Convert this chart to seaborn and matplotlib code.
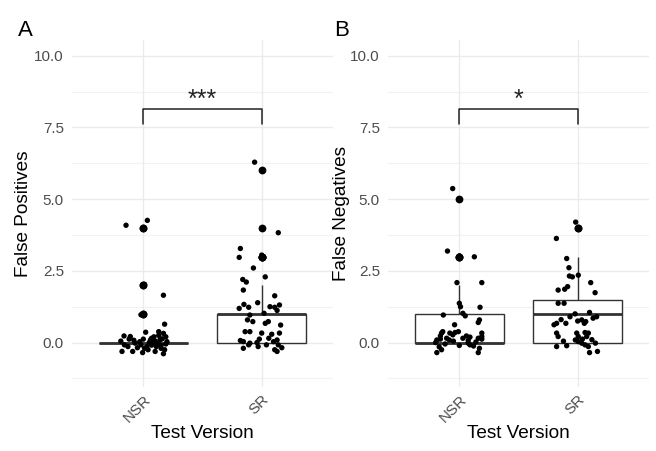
import numpy as np
import pandas as pd
import matplotlib
matplotlib.use("Agg")
import matplotlib.pyplot as plt
import seaborn as sns

# ---------------- data ----------------
versions = ["NSR", "SR"]

# Panel A: False Positives  (underlying integer counts + observed jitter offsets)
fp_nsr_counts = [4, 4, 2, 2, 1, 1] + [0] * 41
fp_nsr_dx = [-0.146, 0.034, 0.01, 0.17, -0.02, 0.18,
             -0.163, -0.11, 0.02, 0.07, 0.13, 0.17, 0.19, -0.18, -0.09, -0.006, 0.1, 0.17,
             -0.13, -0.07, -0.03, 0.03, 0.06, 0.08, 0.11, 0.14, 0.2, 0.15, 0.04,
             -0.19, -0.16, -0.12, -0.05, -0.02, 0.0, 0.01, 0.05, 0.07, 0.09, 0.1, 0.12,
             0.13, 0.15, 0.16, 0.18, 0.19, -0.08]
fp_nsr_dy = [0.09, 0.26, 0.03, -0.35, -0.03, -0.36,
             0.23, 0.21, 0.36, 0.15, 0.38, 0.32, 0.2, -0.31, -0.31, -0.35, -0.31, -0.39,
             -0.14, -0.02, 0.03, -0.14, 0.09, -0.02, -0.14, 0.09, 0.03, -0.2, -0.25,
             0.05, -0.08, 0.12, -0.18, -0.08, 0.12, -0.2, 0.0, -0.09, 0.2, 0.05, -0.05,
             0.25, -0.1, 0.13, -0.25, -0.05, 0.08]

fp_sr_counts = [6, 4, 3, 3, 3, 3, 2, 2, 2, 2, 2] + [1] * 15 + [0] * 21
fp_sr_dx = [-0.06, 0.14, -0.18, -0.19, 0.0, -0.07, 0.03, -0.16, -0.13, -0.155, 0.11,
            -0.19, -0.11, -0.034, 0.07, 0.11, 0.15, -0.1, -0.075, -0.12, 0.056, 0.16,
            0.02, -0.15, 0.13, 0.03,
            -0.14, -0.1, 0.0, 0.085, 0.15, -0.18, -0.155, -0.1, -0.04, -0.02, 0.1, 0.13,
            -0.155, -0.03, 0.14, 0.11, 0.13, 0.04, -0.11, 0.06, 0.17]
fp_sr_dy = [0.29, -0.17, 0.28, -0.03, 0.05, -0.4, 0.29, 0.2, 0.11, -0.17, -0.37,
            0.19, 0.23, 0.39, 0.25, 0.23, 0.31, -0.04, -0.27, -0.21, -0.27, -0.39,
            0.02, 0.33, 0.12, -0.33,
            0.38, 0.38, 0.33, 0.29, 0.33, 0.07, 0.035, -0.02, 0.0, 0.12, 0.03, 0.09,
            -0.2, -0.14, -0.08, -0.25, -0.31, -0.08, -0.08, 0.15, -0.18]

# Panel B: False Negatives
fn_nsr_counts = [5, 3, 3, 3, 2, 2] + [1] * 9 + [0] * 32
fn_nsr_dx = [-0.056, -0.1, 0.127, 0.0, -0.02, 0.19,
             0.0, 0.01, 0.175, 0.03, 0.05, -0.135, 0.17, 0.16, -0.04,
             -0.15, -0.14, -0.16, -0.08, -0.055, -0.036, -0.008, 0.19, 0.19, -0.19, -0.16,
             -0.2, -0.107, -0.085, 0.06, 0.09, 0.075, 0.16, 0.19, 0.075, 0.09, -0.19,
             -0.15, 0.16, 0.17, -0.12, -0.05, 0.0, 0.03, 0.12, 0.14, -0.17]
fn_nsr_dy = [0.37, 0.19, -0.01, 0.02, 0.09, 0.09,
             0.37, 0.25, 0.23, 0.02, -0.07, -0.04, -0.21, -0.3, -0.38,
             0.33, 0.38, 0.23, 0.33, 0.27, 0.35, 0.38, 0.33, 0.21, 0.09, 0.12,
             0.0, 0.15, 0.09, 0.23, 0.19, 0.07, 0.15, 0.12, -0.02, -0.08, -0.35,
             -0.25, -0.35, -0.2, -0.05, 0.05, -0.1, 0.15, -0.12, 0.02, -0.15]

fn_sr_counts = [4, 4, 3, 3] + [2] * 8 + [1] * 15 + [0] * 20
fn_sr_dx = [-0.017, -0.18, -0.093, -0.074, -0.07, -0.045, 0.005, 0.11, 0.147, -0.165,
            -0.11, -0.085,
            -0.165, -0.115, -0.065, -0.022, 0.034, 0.068, 0.056, 0.13, -0.178, -0.2, -0.1,
            0.1, 0.16, -0.14, 0.0,
            -0.178, -0.165, -0.008, 0.005, 0.062, 0.09, 0.076, -0.02, 0.005, 0.034, 0.062,
            0.09, -0.178, -0.093, 0.1, 0.167, 0.12, -0.12, 0.04, 0.15]
fn_sr_dy = [0.2, -0.37, -0.07, -0.39, 0.32, 0.29, 0.35, 0.09, -0.26, -0.17, -0.14, -0.05,
            0.37, 0.37, -0.1, 0.0, -0.21, -0.27, -0.33, -0.15, -0.33, -0.38, -0.33,
            0.05, -0.1, -0.2, -0.25,
            0.33, 0.21, 0.33, 0.21, 0.35, 0.33, 0.21, 0.09, 0.035, -0.02, -0.08,
            -0.14, -0.14, -0.11, -0.35, -0.31, 0.1, 0.05, 0.12, -0.02]

panels = [
    ("A", "False Positives", "***", (fp_nsr_counts, fp_nsr_dx, fp_nsr_dy), (fp_sr_counts, fp_sr_dx, fp_sr_dy)),
    ("B", "False Negatives", "*", (fn_nsr_counts, fn_nsr_dx, fn_nsr_dy), (fn_sr_counts, fn_sr_dx, fn_sr_dy)),
]

y_ticks = [0.0, 2.5, 5.0, 7.5, 10.0]
y_minor = [-1.25, 1.25, 3.75, 6.25, 8.75]
bracket_y = 8.15
bracket_tip = 7.63

# ---------------- style ----------------
sns.set_theme(style="white")
plt.rcParams["font.family"] = ["Liberation Sans", "DejaVu Sans"]

fig = plt.figure(figsize=(6.56, 4.51), dpi=100)
positions = [[0.1102, 0.1419, 0.397, 0.7694], [0.5919, 0.1419, 0.397, 0.7694]]
letter_x = [25, 342]
ylabel_x = [23, 341]

for (letter, ylab, stars, g1, g2), pos, lx, ylx in zip(panels, positions, letter_x, ylabel_x):
    ax = fig.add_axes(pos)
    rows = []
    for v, (counts, dx, dy) in zip(versions, [g1, g2]):
        for c, a, b in zip(counts, dx, dy):
            rows.append({"version": v, "count": c, "dx": a, "dy": b})
    df = pd.DataFrame(rows)
    df["xpos"] = df["version"].map({v: i for i, v in enumerate(versions)}) + df["dx"]
    df["ypos"] = df["count"] + df["dy"]

    # grid
    for yv in y_ticks:
        ax.axhline(yv, color="#ebebeb", lw=1.0, zorder=0)
    for yv in y_minor:
        ax.axhline(yv, color="#f2f2f2", lw=0.8, zorder=0)
    for xv in range(len(versions)):
        ax.axvline(xv, color="#ebebeb", lw=1.0, zorder=0)

    sns.boxplot(data=df, x="version", y="count", order=versions, ax=ax,
                width=0.75, color="white", linecolor="#333333", linewidth=1.0,
                medianprops=dict(linewidth=2.0, color="#333333"),
                capprops=dict(linewidth=0),
                flierprops=dict(marker="o", markerfacecolor="black",
                                markeredgecolor="black", markersize=4.6),
                zorder=2)
    sns.scatterplot(data=df, x="xpos", y="ypos", ax=ax, color="black", s=15,
                    edgecolor="none", legend=False, zorder=3)

    # significance bracket
    ax.plot([0, 0, 1, 1], [bracket_tip, bracket_y, bracket_y, bracket_tip],
            color="#222222", lw=1.1, zorder=4)
    ax.text(0.5, bracket_y - 0.12, stars, ha="center", va="bottom",
            fontsize=18, color="#222222")

    ax.set_xlim(-0.6, 1.6)
    ax.set_ylim(-1.55, 10.55)
    ax.set_yticks(y_ticks)
    ax.set_yticklabels([f"{t:.1f}" for t in y_ticks])
    ax.set_xticks(range(len(versions)))
    ax.set_xticklabels(versions, rotation=45, ha="right", va="top",
                       rotation_mode="anchor")
    ax.tick_params(axis="both", length=0, labelsize=11, labelcolor="#4d4d4d", pad=4)
    ax.tick_params(axis="y", pad=6)
    for s in ax.spines.values():
        s.set_visible(False)
    ax.grid(False)
    ax.set_facecolor("white")

    ax.set_xlabel("Test Version", fontsize=13.7, color="black")
    ax.set_ylabel(ylab, fontsize=13.7, color="black")
    ax.xaxis.label.set_va("center")
    ax.xaxis.set_label_coords(0.5, -0.1326)
    ax.yaxis.label.set_va("center")
    ax.yaxis.set_label_coords((ylx - pos[0] * 656) / (pos[2] * 656), 0.5)

    fig.text(lx / 656, 1 - 30 / 451, letter, ha="center", va="center", fontsize=16, color="black")

fig.savefig("out.png", dpi=100)
